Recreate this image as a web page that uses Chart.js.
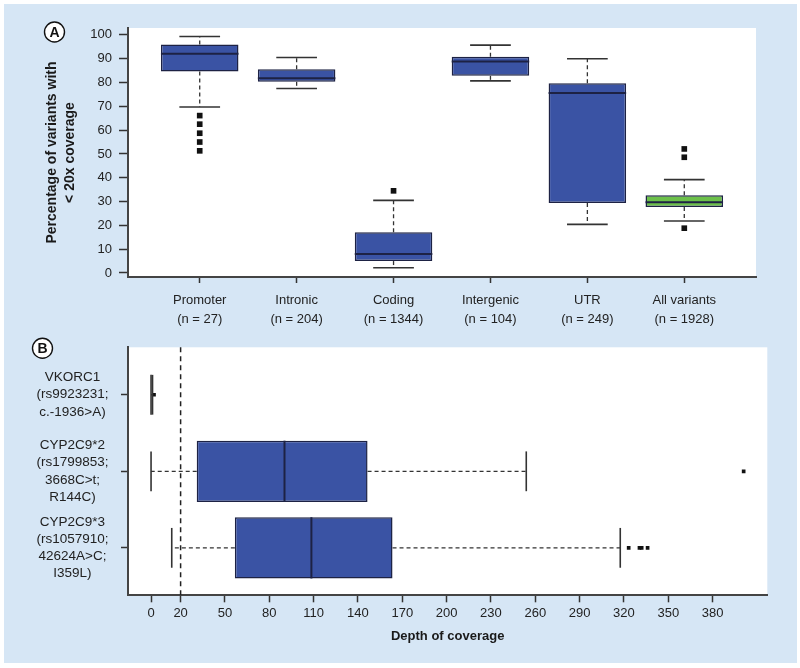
<!DOCTYPE html>
<html>
<head>
<meta charset="utf-8">
<script src="https://cdn.jsdelivr.net/npm/chart.js@4.4.0/dist/chart.umd.min.js"></script>
<style>
  body { margin: 0; background: #fff; }
  #wrap { position: relative; width: 800px; height: 668px; }
  #bg { position: absolute; left: 4px; top: 4px; width: 793px; height: 659px; background: #d6e6f5; }
  #boxA { position: absolute; left: 0; top: 0; width: 800px; height: 335px; }
  #boxB { position: absolute; left: 0; top: 335px; width: 800px; height: 333px; }
</style>
</head>
<body>
<div id="wrap">
  <div id="bg"></div>
  <div id="boxA"><canvas id="chartA"></canvas></div>
  <div id="boxB"><canvas id="chartB"></canvas></div>
</div>
<script>
// panel A : % of variants with < 20x coverage, per region
const CATS_A = ['Promoter', 'Intronic', 'Coding', 'Intergenic', 'UTR', 'All variants'];
const N_A = [27, 204, 1344, 104, 249, 1928];
const MIN_A = [69.7, 77.5, 2.2, 80.7, 20.4, 21.8];
const Q1_A = [84.6, 80.3, 5.0, 82.8, 29.4, 27.7];
const MED_A = [92.1, 81.8, 8.0, 88.8, 75.6, 29.7];
const Q3_A = [96.0, 85.6, 17.1, 90.8, 79.7, 32.6];
const MAX_A = [99.3, 90.5, 30.5, 95.7, 90.0, 39.2];
const OUT_A = [[66.1, 62.5, 58.7, 55.0, 51.3], [], [34.5], [], [], [52.1, 48.6, 18.8]];
const TICKS_A = [0, 10, 20, 30, 40, 50, 60, 70, 80, 90, 100];

// panel B : depth of coverage for the three pharmacogenetic variants
const CATS_B = [
  ['VKORC1', '(rs9923231;', 'c.-1936>A)'],
  ['CYP2C9*2', '(rs1799853;', '3668C>t;', 'R144C)'],
  ['CYP2C9*3', '(rs1057910;', '42624A>C;', 'I359L)']
];
const MIN_B = [0, 0, 14.0];
const Q1_B = [0, 30.9, 56.7];
const MED_B = [0, 90.3, 108.5];
const Q3_B = [0, 146.5, 163.4];
const MAX_B = [1, 253.9, 317.5];
const OUT_B = [[2], [401], [323.2, 330.5, 332, 336]];
const TICKS_B = [0, 20, 50, 80, 110, 140, 170, 200, 230, 260, 290, 320, 350, 380];
const CUTOFF_B = 20;

const BLUE = '#3a53a4';
const GREEN = '#6cc04a';
const DARK = '#1d2244';
const FONT = 'Liberation Sans, Arial, Helvetica, sans-serif';

// whiskers, staples and medians drawn from the scales
function boxPlugin(stats, horiz, staple, letter, lx, ly) {
  return {
    id: 'boxes',
    beforeDraw(chart) {
      const a = chart.chartArea, ctx = chart.ctx;
      ctx.save();
      ctx.fillStyle = '#fff';
      ctx.fillRect(a.left, a.top, a.width, a.height);
      ctx.restore();
    },
    beforeDatasetsDraw(chart) {
      if (!horiz) return;
      const a = chart.chartArea, ctx = chart.ctx;
      const x = chart.scales.x.getPixelForValue(CUTOFF_B);
      ctx.save();
      ctx.strokeStyle = '#222';
      ctx.lineWidth = 1.5;
      ctx.setLineDash([5, 4]);
      ctx.beginPath();
      ctx.moveTo(x, a.top);
      ctx.lineTo(x, a.bottom);
      ctx.stroke();
      ctx.restore();
    },
    afterDatasetsDraw(chart) {
      const ctx = chart.ctx;
      const iS = horiz ? chart.scales.y : chart.scales.x;
      const vS = horiz ? chart.scales.x : chart.scales.y;
      function seg(c, v1, o1, v2, o2) {
        const p1 = vS.getPixelForValue(v1), p2 = vS.getPixelForValue(v2);
        ctx.beginPath();
        if (horiz) { ctx.moveTo(p1, c + o1); ctx.lineTo(p2, c + o2); }
        else { ctx.moveTo(c + o1, p1); ctx.lineTo(c + o2, p2); }
        ctx.stroke();
      }
      ctx.save();
      for (let i = 0; i < stats.med.length; i++) {
        const c = iS.getPixelForValue(i + 1);
        const st = Math.abs(iS.getPixelForValue(i + 1 + staple / 2) - c);
        const half = Math.abs(iS.getPixelForValue(i + 1 + 0.4) - c);
        ctx.strokeStyle = '#333';
        ctx.lineWidth = 1.3;
        ctx.setLineDash([4, 3]);
        if (stats.max[i] > stats.q3[i]) seg(c, stats.q3[i], 0, stats.max[i], 0);
        if (stats.min[i] < stats.q1[i]) seg(c, stats.q1[i], 0, stats.min[i], 0);
        ctx.setLineDash([]);
        ctx.lineWidth = 1.6;
        seg(c, stats.max[i], -st, stats.max[i], st);
        seg(c, stats.min[i], -st, stats.min[i], st);
        if (stats.q3[i] > stats.q1[i]) {
          ctx.strokeStyle = DARK;
          ctx.lineWidth = 2;
          seg(c, stats.med[i], -half, stats.med[i], half);
        }
      }
      ctx.restore();
    },
    afterDraw(chart) {
      const ctx = chart.ctx;
      ctx.save();
      ctx.beginPath();
      ctx.arc(lx, ly, 10, 0, Math.PI * 2);
      ctx.fillStyle = '#fff';
      ctx.fill();
      ctx.strokeStyle = '#111';
      ctx.lineWidth = 1.4;
      ctx.stroke();
      ctx.fillStyle = '#111';
      ctx.font = 'bold 14px ' + FONT;
      ctx.textAlign = 'center';
      ctx.textBaseline = 'middle';
      ctx.fillText(letter, lx, ly + 1);
      ctx.restore();
    }
  };
}

const tickFont = { family: FONT, size: 13, lineHeight: 1.45 };

new Chart(document.getElementById('chartA'), {
  type: 'bar',
  data: {
    datasets: [
      {
        data: CATS_A.map((c, i) => ({ x: i + 1, y: [Q1_A[i], Q3_A[i]] })),
        backgroundColor: CATS_A.map((c, i) => i === 5 ? GREEN : BLUE),
        borderColor: DARK,
        borderWidth: 1.5,
        borderSkipped: false,
        categoryPercentage: 0.8,
        barPercentage: 1
      },
      {
        type: 'scatter',
        data: OUT_A.flatMap((arr, i) => arr.map(v => ({ x: i + 1, y: v }))),
        pointStyle: 'rect',
        radius: 4,
        backgroundColor: '#111',
        borderWidth: 0
      }
    ]
  },
  options: {
    responsive: true,
    maintainAspectRatio: false,
    animation: false,
    layout: { padding: { top: 28, right: 44, left: 0, bottom: 0 } },
    plugins: { legend: { display: false }, tooltip: { enabled: false } },
    scales: {
      x: {
        type: 'linear',
        offset: false,
        min: 0.26,
        max: 6.74,
        afterBuildTicks: s => { s.ticks = CATS_A.map((c, i) => ({ value: i + 1 })); },
        afterFit: s => { s.height = 58; },
        ticks: {
          callback: v => [CATS_A[v - 1], '(n = ' + N_A[v - 1] + ')'],
          font: tickFont,
          color: '#222',
          padding: 8,
          maxRotation: 0,
          autoSkip: false
        },
        grid: { offset: false, drawOnChartArea: false, tickLength: 6, tickWidth: 1.5, tickColor: '#333' },
        border: { display: true, color: '#444', width: 2 }
      },
      y: {
        type: 'linear',
        min: -1.7,
        max: 102.9,
        afterBuildTicks: s => { s.ticks = TICKS_A.map(v => ({ value: v })); },
        afterFit: s => { s.width = 128; },
        ticks: { font: { family: FONT, size: 13 }, color: '#222', padding: 7 },
        grid: { drawOnChartArea: false, tickLength: 9, tickWidth: 1.5, tickColor: '#333' },
        border: { display: true, color: '#444', width: 2 },
        title: {
          display: true,
          text: ['Percentage of variants with', '< 20x coverage'],
          color: '#1a1a1a',
          font: { family: FONT, size: 14, weight: 'bold', lineHeight: 1.3 },
          padding: { top: 42.6, bottom: 0 }
        }
      }
    }
  },
  plugins: [boxPlugin({ min: MIN_A, q1: Q1_A, med: MED_A, q3: Q3_A, max: MAX_A }, false, 0.42, 'A', 54.5, 32)]
});

new Chart(document.getElementById('chartB'), {
  type: 'bar',
  data: {
    datasets: [
      {
        data: CATS_B.map((c, i) => ({ y: i + 1, x: [Q1_B[i], Q3_B[i]] })),
        backgroundColor: BLUE,
        borderColor: DARK,
        borderWidth: 1.5,
        borderSkipped: false,
        categoryPercentage: 0.8,
        barPercentage: 1
      },
      {
        type: 'scatter',
        data: OUT_B.flatMap((arr, i) => arr.map(v => ({ x: v, y: i + 1 }))),
        pointStyle: 'rect',
        radius: 2.6,
        backgroundColor: '#111',
        borderWidth: 0
      }
    ]
  },
  options: {
    indexAxis: 'y',
    responsive: true,
    maintainAspectRatio: false,
    animation: false,
    layout: { padding: { top: 12.3, right: 32.7, left: 0, bottom: 0 } },
    plugins: { legend: { display: false }, tooltip: { enabled: false } },
    scales: {
      x: {
        type: 'linear',
        offset: false,
        min: -15.6,
        max: 417,
        afterBuildTicks: s => { s.ticks = TICKS_B.map(v => ({ value: v })); },
        afterFit: s => { s.height = 72.7; },
        ticks: { font: { family: FONT, size: 13, lineHeight: 1.2 }, color: '#222', padding: 3, maxRotation: 0, autoSkip: false },
        grid: { offset: false, drawOnChartArea: false, tickLength: 7, tickWidth: 1.5, tickColor: '#333' },
        border: { display: true, color: '#444', width: 2 },
        title: {
          display: true,
          text: 'Depth of coverage',
          color: '#1a1a1a',
          font: { family: FONT, size: 13, weight: 'bold', lineHeight: 1.2 },
          padding: { top: 0, bottom: 24.2 }
        }
      },
      y: {
        type: 'linear',
        offset: false,
        reverse: true,
        min: 0.38,
        max: 3.62,
        afterBuildTicks: s => { s.ticks = CATS_B.map((c, i) => ({ value: i + 1 })); },
        afterFit: s => { s.width = 128; s.paddingTop = 0; s.paddingBottom = 0; },
        ticks: {
          callback: v => CATS_B[v - 1],
          font: { family: FONT, size: 13.5, lineHeight: 1.27 },
          color: '#222',
          padding: 12.5,
          crossAlign: 'center'
        },
        grid: { offset: false, drawOnChartArea: false, tickLength: 7, tickWidth: 1.5, tickColor: '#333' },
        border: { display: true, color: '#444', width: 2 }
      }
    }
  },
  plugins: [boxPlugin({ min: MIN_B, q1: Q1_B, med: MED_B, q3: Q3_B, max: MAX_B }, true, 0.52, 'B', 42.5, 13.3)]
});
</script>
</body>
</html>
